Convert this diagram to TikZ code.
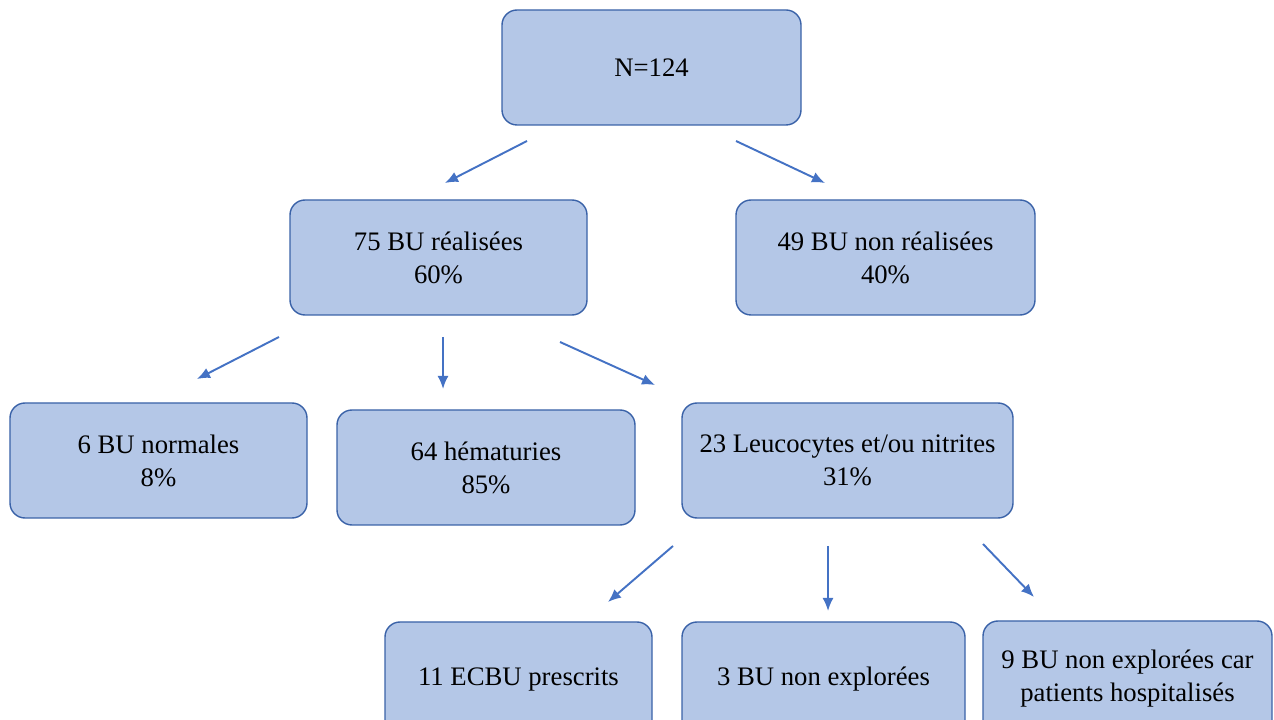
\documentclass[tikz,border=0pt]{standalone}
\usepackage{fontspec}
\usetikzlibrary{arrows.meta}
\setmainfont{Liberation Serif}
\definecolor{boxfill}{HTML}{B4C7E7}
\definecolor{boxline}{HTML}{3A62A8}
\definecolor{arrowline}{HTML}{4472C4}
\tikzset{
  bubox/.style={draw=boxline,fill=boxfill,line width=0.8pt,rounded corners=0.3cm,
    minimum height=2.3cm,align=center,font=\fontsize{15.2}{18.8}\selectfont},
  buarrow/.style={draw=arrowline,-{Latex[length=2.6mm,width=2.2mm]},line width=1.1pt}
}
\begin{document}
\begin{tikzpicture}

\useasboundingbox (0,0) rectangle (25.48,14.4);

%niveau 1
\node[bubox,minimum width=5.98cm] (tot) at (13.03,13.05) {N=124};

%niveau 2
\node[bubox,minimum width=5.94cm] (real) at (8.77,9.25) {75 BU réalisées\\60\%};
\node[bubox,minimum width=5.98cm] (nonreal) at (17.71,9.25) {49 BU non réalisées\\40\%};

%niveau 3
\node[bubox,minimum width=5.94cm] (norm) at (3.17,5.19) {6 BU normales\\8\%};
\node[bubox,minimum width=5.96cm] (hema) at (9.72,5.05) {64 hématuries\\85\%};
\node[bubox,minimum width=6.62cm] (leuco) at (16.95,5.19) {23 Leucocytes et/ou nitrites\\31\%};

%niveau 4
\node[bubox,minimum width=5.34cm] (ecbu) at (10.37,0.81) {11 ECBU prescrits};
\node[bubox,minimum width=5.66cm] (nonexp) at (16.47,0.81) {3 BU non explorées};
\node[bubox,minimum width=5.78cm] (hosp) at (22.55,0.83) {9 BU non explorées car\\patients hospitalisés};

%fleches
\coordinate (a1s) at (10.54,11.58);
\coordinate (a1e) at (8.9,10.74);
\coordinate (a2s) at (14.72,11.58);
\coordinate (a2e) at (16.5,10.74);
\path[buarrow] (a1s) -- (a1e);
\path[buarrow] (a2s) -- (a2e);

\coordinate (a3s) at (5.58,7.66);
\coordinate (a3e) at (3.94,6.82);
\coordinate (a4s) at (8.86,7.66);
\coordinate (a4e) at (8.86,6.62);
\coordinate (a5s) at (11.2,7.56);
\coordinate (a5e) at (13.1,6.7);
\path[buarrow] (a3s) -- (a3e);
\path[buarrow] (a4s) -- (a4e);
\path[buarrow] (a5s) -- (a5e);

\coordinate (a6s) at (13.46,3.48);
\coordinate (a6e) at (12.16,2.36);
\coordinate (a7s) at (16.56,3.48);
\coordinate (a7e) at (16.56,2.18);
\coordinate (a8s) at (19.66,3.52);
\coordinate (a8e) at (20.68,2.46);
\path[buarrow] (a6s) -- (a6e);
\path[buarrow] (a7s) -- (a7e);
\path[buarrow] (a8s) -- (a8e);

\end{tikzpicture}
\end{document}
